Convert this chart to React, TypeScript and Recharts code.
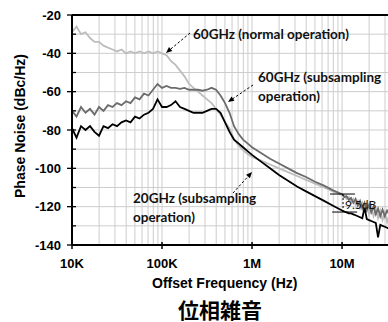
import {
  Line,
  LineChart,
  ReferenceDot,
  ReferenceLine,
  XAxis,
  YAxis,
} from "recharts";

// offset frequency (Hz)
const FREQ = [
  10000, 11220, 12590, 14130, 15850, 17780, 19950, 22390, 25120, 28180,
  31620, 35480, 39810, 44670, 50120, 56230, 63100, 70790, 79430, 89130,
  100000, 112200, 125900, 141300, 158500, 177800, 199500, 223900, 251200, 281800,
  316200, 354800, 398100, 446700, 501200, 562300, 631000, 707900, 794300, 891300,
  1000000, 1259000, 1585000, 1995000, 2512000, 3162000, 3981000, 5012000, 6310000, 7943000,
  10000000, 10590000, 11220000, 11890000, 12590000, 13340000, 14130000, 14960000, 15850000, 16790000,
  17780000, 18840000, 19950000, 21130000, 22390000, 23710000, 25120000, 26610000, 28180000, 29850000,
  31620000, 33500000,
];

// 60GHz (normal operation)
const NORMAL_60GHZ = [
  -29, -26, -30, -29, -32, -34, -34, -36, -37, -38,
  -39, -38, -40, -39, -40, -39, -40, -39, -40, -39,
  -40, -41, -44, -46, -49, -52, -56, -58, -60, -62,
  -64, -66, -69, -72, -76, -79, -85, -88, -90.5, -92.5,
  -94, -96, -98, -100, -102, -104, -106, -108, -110, -112,
  -114, -114, -116, -115, -118, -116, -119, -117, -121, -118,
  -122, -119, -124, -120, -125, -121, -126, -122, -127, -123,
  -128, -124,
];

// 60GHz (subsampling operation)
const SUB_60GHZ = [
  -70, -73, -68, -71, -69, -72, -68, -70, -67, -68,
  -66, -67, -65, -66, -63, -64, -61, -62, -59, -56,
  -58, -57, -58, -58, -58.5, -58, -59, -59, -59, -59.5,
  -59, -58, -59, -62, -66, -71, -78, -82, -85, -87,
  -89, -92, -95, -97.5, -100, -102.5, -104.5, -107, -109, -111.5,
  -113.5, -115, -114.5, -116.5, -115.5, -118, -116, -119.5, -117, -121,
  -118, -122, -119, -123, -120, -124, -121, -125, -121.5, -125,
  -122, -124,
];

// 20GHz (subsampling operation)
const SUB_20GHZ = [
  -79, -84, -78, -80, -78, -81, -83, -78, -79, -77,
  -78, -76, -75, -76, -73, -74, -72, -71, -69, -64,
  -68, -68, -67, -65, -68, -69, -70, -71, -71, -71,
  -70, -69, -69, -71, -76, -81, -85, -87, -89, -91,
  -93, -96.5, -100, -103.5, -106.5, -109.5, -112, -114.5, -117, -119.5,
  -122, -122.5, -123, -123.5, -123.5, -124, -124.5, -125, -125.5, -126,
  -120.5, -126.5, -127, -127.5, -128, -128.5, -136, -129.5, -130, -130.5,
  -131, -131.5,
];

const X_TICKS = [
  10000, 20000, 30000, 40000, 50000, 60000, 70000, 80000, 90000,
  100000, 200000, 300000, 400000, 500000, 600000, 700000, 800000, 900000,
  1000000, 2000000, 3000000, 4000000, 5000000, 6000000, 7000000, 8000000, 9000000,
  10000000, 20000000, 30000000,
];
const X_TICK_LABELS: Record<number, string> = {
  10000: "10K",
  100000: "100K",
  1000000: "1M",
  10000000: "10M",
};
const Y_TICKS = [-140, -130, -120, -110, -100, -90, -80, -70, -60, -50, -40, -30, -20];

const data = FREQ.map((f, i) => ({
  f,
  normal60: NORMAL_60GHZ[i],
  sub60: SUB_60GHZ[i],
  sub20: SUB_20GHZ[i],
}));

const AXIS_FONT = "'Liberation Sans', Arial, sans-serif";
const NOTE_FONT = "Lato, 'Open Sans', sans-serif";
const GRID = "#cdcdcd";

function XTick({ x, y, payload }: any) {
  const label = X_TICK_LABELS[payload.value];
  if (!label) return null;
  return (
    <g>
      <line x1={x} x2={x} y1={y - 3} y2={y + 4} stroke="#000" strokeWidth={1.5} />
      <text
        x={x}
        y={y + 23}
        textAnchor="middle"
        fontFamily={AXIS_FONT}
        fontWeight={700}
        fontSize={13}
        fill="#000"
      >
        {label}
      </text>
    </g>
  );
}

function YTick({ x, y, payload }: any) {
  const v = payload.value;
  const major = v % 20 === 0;
  return (
    <g>
      <line x1={major ? x - 5 : x} x2={x + 4} y1={y} y2={y} stroke="#000" strokeWidth={1.3} />
      {major && (
        <text
          x={x - 11}
          y={y}
          dy="0.36em"
          textAnchor="end"
          fontFamily={AXIS_FONT}
          fontWeight={700}
          fontSize={13}
          fill="#000"
        >
          {v}
        </text>
      )}
    </g>
  );
}

const dashedArrow = (p: any) => {
  const { x1, y1, x2, y2 } = p;
  const a = Math.atan2(y2 - y1, x2 - x1);
  const L = 6;
  const W = 2.6;
  const bx = x2 - L * Math.cos(a);
  const by = y2 - L * Math.sin(a);
  const pts = `${x2},${y2} ${bx + W * Math.sin(a)},${by - W * Math.cos(a)} ${bx - W * Math.sin(a)},${by + W * Math.cos(a)}`;
  return (
    <g>
      <line x1={x1} y1={y1} x2={bx} y2={by} stroke="#000" strokeWidth={1} strokeDasharray="2.5 2" />
      <polygon points={pts} fill="#000" />
    </g>
  );
};

const noteText = (lines: string[], weight = 700, size = 13.5) => (p: any) => (
  <text x={p.cx} y={p.cy} fontFamily={NOTE_FONT} fontWeight={weight} fontSize={size} fill="#111">
    {lines.map((l, i) => (
      <tspan key={i} x={p.cx} dy={i === 0 ? 0 : 19}>
        {l}
      </tspan>
    ))}
  </text>
);

export default function App() {
  return (
    <div style={{ position: "absolute", left: 0, top: 0, width: 388, height: 322, background: "#fff" }}>
      <LineChart width={388} height={322} data={data} margin={{ top: 15, right: 0, bottom: 0, left: 0 }}>
        <XAxis
          dataKey="f"
          type="number"
          scale="log"
          domain={[10000, 32400000]}
          allowDataOverflow
          ticks={X_TICKS}
          interval={0}
          height={77}
          tickSize={0}
          tickMargin={0}
          tick={<XTick />}
          axisLine={{ stroke: "#000", strokeWidth: 2 }}
        />
        <YAxis
          type="number"
          domain={[-140, -20]}
          ticks={Y_TICKS}
          interval={0}
          width={72}
          tickSize={0}
          tickMargin={0}
          tick={<YTick />}
          axisLine={{ stroke: "#000", strokeWidth: 2 }}
          label={{
            content: () => (
              <text
                x={20}
                y={126}
                transform="rotate(-90, 20, 126)"
                textAnchor="middle"
                dominantBaseline="central"
                fontFamily={AXIS_FONT}
                fontWeight={700}
                fontSize={14}
                fill="#000"
              >
                Phase Noise (dBc/Hz)
              </text>
            ),
          }}
        />
        {X_TICKS.slice(1).map((v) => (
          <ReferenceLine key={`gx${v}`} x={v} stroke={GRID} strokeWidth={1} />
        ))}
        {Y_TICKS.slice(1, -1).map((v) => (
          <ReferenceLine key={`gy${v}`} y={v} stroke={GRID} strokeWidth={1} />
        ))}
        <ReferenceLine y={-20} stroke="#000" strokeWidth={2} />
        <Line type="linear" dataKey="normal60" stroke="#bdbdbd" strokeWidth={1.8} dot={false} isAnimationActive={false} />
        <Line type="linear" dataKey="sub60" stroke="#6b6b6b" strokeWidth={1.8} dot={false} isAnimationActive={false} />
        <Line type="linear" dataKey="sub20" stroke="#000" strokeWidth={1.8} dot={false} isAnimationActive={false} />

        <ReferenceLine segment={[{ x: 204800, y: -29.4 }, { x: 110800, y: -39.8 }]} shape={dashedArrow} />
        <ReferenceLine segment={[{ x: 1026000, y: -56.5 }, { x: 541000, y: -65.4 }]} shape={dashedArrow} />
        <ReferenceLine segment={[{ x: 615000, y: -112.9 }, { x: 1000000, y: -101.9 }]} shape={dashedArrow} />

        <ReferenceLine segment={[{ x: 7360000, y: -113.4 }, { x: 13900000, y: -113.4 }]} stroke="#000" strokeWidth={1} />
        <ReferenceLine segment={[{ x: 7770000, y: -122.8 }, { x: 14700000, y: -122.8 }]} stroke="#000" strokeWidth={1} />
        <ReferenceLine segment={[{ x: 10260000, y: -113.4 }, { x: 10260000, y: -122.8 }]} stroke="#000" strokeWidth={1} strokeDasharray="2 2" />

        <ReferenceDot x={221000} y={-32.5} r={0} shape={noteText(["60GHz (normal operation)"])} />
        <ReferenceDot x={1166000} y={-55} r={0} shape={noteText(["60GHz (subsampling", "operation)"])} />
        <ReferenceDot x={47600} y={-118.1} r={0} shape={noteText(["20GHz (subsampling", "operation)"])} />
        <ReferenceDot x={10800000} y={-121.2} r={0} shape={noteText(["9.5dB"], 400, 12)} />
      </LineChart>
      <div
        style={{
          position: "absolute",
          left: 152,
          top: 276,
          width: 145,
          textAlign: "center",
          fontFamily: AXIS_FONT,
          fontWeight: 700,
          fontSize: 14,
          lineHeight: "14px",
          whiteSpace: "nowrap",
        }}
      >
        Offset Frequency (Hz)
      </div>
      <div
        style={{
          position: "absolute",
          left: 170,
          top: 297,
          width: 100,
          textAlign: "center",
          fontFamily: "'Noto Sans CJK JP', sans-serif",
          fontWeight: 700,
          fontSize: 21,
          lineHeight: "24px",
          whiteSpace: "nowrap",
        }}
      >
        位相雑音
      </div>
    </div>
  );
}
